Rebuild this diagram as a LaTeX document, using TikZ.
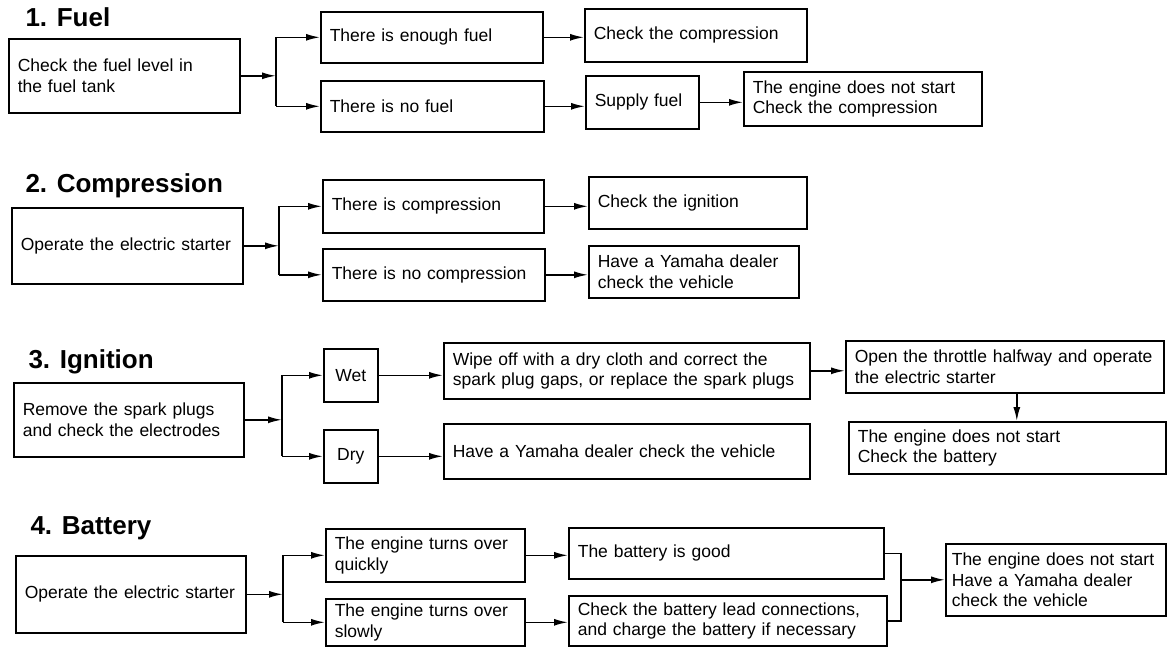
\documentclass[tikz,border=0pt]{standalone}
\usepackage{fontspec}
\setmainfont{Liberation Sans}
\usepackage{tikz}
\usetikzlibrary{arrows.meta}

\begin{document}
\begin{tikzpicture}[
    x=1pt, y=-1pt,
    font=\fontsize{17.5}{20.5}\selectfont,
    box/.style={
        draw,
        line width=1.6pt,
        anchor=north west,
        align=left,
        inner xsep=9pt,
        inner ysep=0pt
    },
    title/.style={anchor=base west, font=\bfseries\fontsize{26}{28}\selectfont},
    line/.style={-{Latex[length=14pt,width=7pt]}, line width=1.6pt},
    link/.style={line width=1.6pt}
]
\useasboundingbox (0,0) rectangle (1167,646);

% --- 1. Fuel ---
\node[title] (title1) at (22,26) {1. Fuel};
\node[box, text width=213pt, minimum height=74pt] (fuelchk) at (8,38) {Check the fuel level in\\the fuel tank};
\node[box, text width=204pt, minimum height=51pt] (enough) at (320,11) {There is enough fuel};
\node[box, text width=205pt, minimum height=51pt] (nofuel) at (320,80) {There is no fuel};
\node[box, text width=204pt, minimum height=53pt] (compchk) at (584,8) {Check the compression};
\node[box, text width=95pt, minimum height=53pt] (supply) at (585,75) {Supply fuel};
\node[box, text width=220pt, minimum height=54pt] (notstart1) at (743,71) {The engine does not start\\Check the compression};

\coordinate (j1) at (276,0);
\draw[line] (fuelchk.east) -- (fuelchk.east -| j1);
\draw[link] (enough -| j1) -- (nofuel -| j1);
\draw[line] (enough -| j1) -- (enough.west);
\draw[line] (nofuel -| j1) -- (nofuel.west);
\draw[line] (enough.east) -- (enough.east -| compchk.west);
\draw[line] (nofuel.east) -- (nofuel.east -| supply.west);
\draw[line] (supply.east) -- (supply.east -| notstart1.west);

% --- 2. Compression ---
\node[title] (title2) at (22,192) {2. Compression};
\node[box, text width=213pt, minimum height=76pt] (opstart1) at (11,207) {Operate the electric starter};
\node[box, text width=203pt, minimum height=53pt] (comp) at (322,179) {There is compression};
\node[box, text width=204pt, minimum height=52pt] (nocomp) at (322,248) {There is no compression};
\node[box, text width=200pt, minimum height=52pt] (ignchk) at (588,176) {Check the ignition};
\node[box, text width=192pt, minimum height=52pt] (dealer2) at (588,245) {Have a Yamaha dealer\\check the vehicle};

\coordinate (j2) at (279,0);
\draw[line] (opstart1.east) -- (opstart1.east -| j2);
\draw[link] (comp -| j2) -- (nocomp -| j2);
\draw[line] (comp -| j2) -- (comp.west);
\draw[line] (nocomp -| j2) -- (nocomp.west);
\draw[line] (comp.east) -- (comp.east -| ignchk.west);
\draw[line] (nocomp.east) -- (nocomp.east -| dealer2.west);

% --- 3. Ignition ---
\node[title] (title3) at (25,368) {3. Ignition};
\node[box, text width=212pt, minimum height=74pt] (plugs) at (13,382) {Remove the spark plugs\\and check the electrodes};
\node[box, align=center, text width=36pt, minimum height=53pt] (wet) at (323,348) {Wet};
\node[box, align=center, text width=36pt, minimum height=53pt] (dry) at (323,429) {Dry};
\node[box, text width=348pt, minimum height=56pt] (wipe) at (443,342) {Wipe off with a dry cloth and correct the\\spark plug gaps, or replace the spark plugs};
\node[box, text width=348pt, minimum height=55pt] (dealer3) at (443,423) {Have a Yamaha dealer check the vehicle};
\node[box, text width=300pt, minimum height=52pt] (throttle) at (845,340) {Open the throttle halfway and operate\\the electric starter};
\node[box, text width=299pt, minimum height=52pt] (notstart3) at (848,421) {The engine does not start\\Check the battery};

\coordinate (j3) at (282,0);
\draw[line] (plugs.east) -- (plugs.east -| j3);
\draw[link] (wet -| j3) -- (dry -| j3);
\draw[line] (wet -| j3) -- (wet.west);
\draw[line] (dry -| j3) -- (dry.west);
\draw[line] (wet.east) -- (wet.east -| wipe.west);
\draw[line] (dry.east) -- (dry.east -| dealer3.west);
\draw[line] (wipe.east) -- (wipe.east -| throttle.west);
\draw[line] ([xshift=12pt]throttle.south) -- ([xshift=12pt]throttle.south |- notstart3.north);

% --- 4. Battery ---
\node[title] (title4) at (27,534) {4. Battery};
\node[box, text width=212pt, minimum height=77pt] (opstart2) at (15,555) {Operate the electric starter};
\node[box, text width=181pt, minimum height=53pt] (quick) at (325,528) {The engine turns over\\quickly};
\node[box, text width=181pt, minimum height=47pt] (slow) at (325,598) {The engine turns over\\slowly};
\node[box, text width=297pt, minimum height=51pt] (good) at (568,527) {The battery is good};
\node[box, text width=300pt, minimum height=50pt] (leads) at (568,595) {Check the battery lead connections,\\and charge the battery if necessary};
\node[box, inner xsep=6pt, text width=208pt, minimum height=72pt] (final) at (945,543) {The engine does not start\\Have a Yamaha dealer\\check the vehicle};

\coordinate (j4) at (283,0);
\coordinate (m4) at (901,0);
\draw[line] (opstart2.east) -- (opstart2.east -| j4);
\draw[link] (quick -| j4) -- (slow -| j4);
\draw[line] (quick -| j4) -- (quick.west);
\draw[line] (slow -| j4) -- (slow.west);
\draw[line] (quick.east) -- (quick.east -| good.west);
\draw[line] (slow.east) -- (slow.east -| leads.west);
\draw[link] (good.east) -- (good.east -| m4) -- (leads.east -| m4) -- (leads.east);
\draw[line] (final.west -| m4) -- (final.west);

\end{tikzpicture}
\end{document}
